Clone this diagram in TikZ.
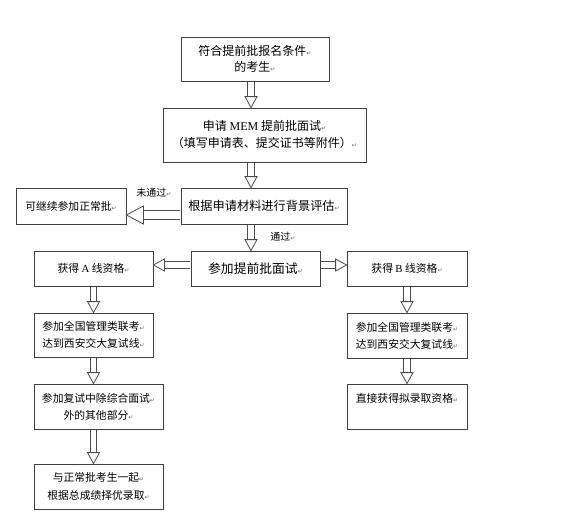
\documentclass[tikz,border=0pt]{standalone}
\usepackage{fontspec}
\setmainfont{Liberation Serif}
\newfontfamily\cjk{Noto Sans CJK SC}
\newfontfamily\symfont{DejaVu Sans}
\usepackage{xcolor}
\usepackage{tikz}
\usetikzlibrary{calc}
\usetikzlibrary{decorations.markings}

\newcommand{\rt}{{\symfont\fontsize{6}{6}\selectfont\color{black!60}↵}}
\newcommand{\lat}[1]{{\rmfamily #1}}

\begin{document}
\begin{tikzpicture}[x=1pt,y=-1pt,
  box/.style={draw=black!75, line width=0.8pt, inner sep=0pt, align=center,
    font=\cjk\fontsize{10.8}{17}\selectfont},
  dbl/.style={draw=black!70, line width=0.8pt, double=white, double distance=5.5pt, shorten <=0.4pt, shorten >=8pt,
    postaction={decorate, decoration={markings, mark=at position 1 with
      {\draw[draw=black!70, fill=white, line width=0.8pt] (-11pt,-6pt) -- (0,0) -- (-11pt,6pt) -- cycle;}}}},
  bigdbl/.style={draw=black!70, line width=0.8pt, double=white, double distance=7.5pt, shorten <=0.4pt, shorten >=13pt,
    postaction={decorate, decoration={markings, mark=at position 1 with
      {\draw[draw=black!70, fill=white, line width=0.8pt] (-17pt,-9pt) -- (0,0) -- (-17pt,9pt) -- cycle;}}}},
  lbl/.style={inner sep=0pt, font=\cjk\fontsize{10}{12}\selectfont}]
\useasboundingbox (0,0) rectangle (584,530);

\coordinate (col) at (251,0);
\coordinate (fail) at (0,215);
\coordinate (split) at (0,265);

\node[box, minimum width=148pt, minimum height=44pt, font=\cjk\fontsize{12}{16}\selectfont] (start) at (255,59) {符合提前批报名条件\rt\\的考生\rt};
\node[box, minimum width=203pt, minimum height=54pt, font=\cjk\fontsize{12}{17}\selectfont] (apply) at (264.5,135) {申请 \lat{MEM} 提前批面试\rt\\（填写申请表、提交证书等附件）\rt};
\node[box, minimum width=166pt, minimum height=36pt, font=\cjk\fontsize{12.2}{16}\selectfont] (eval) at (264,206) {根据申请材料进行背景评估\rt};
\node[box, minimum width=110pt, minimum height=36pt] (normal) at (71,206) {可继续参加正常批\rt};
\node[box, minimum width=129pt, minimum height=35pt, font=\cjk\fontsize{12.8}{16}\selectfont] (interview) at (255.5,268.5) {参加提前批面试\rt};
\node[box, minimum width=119pt, minimum height=35pt] (lineA) at (93.5,268.5) {获得 \lat{A} 线资格\rt};
\node[box, minimum width=120pt, minimum height=35pt] (lineB) at (407,268.5) {获得 \lat{B} 线资格\rt};
\node[box, minimum width=119pt, minimum height=44pt] (examA) at (93.5,335) {参加全国管理类联考\rt\\达到西安交大复试线\rt};
\node[box, minimum width=120pt, minimum height=45pt] (examB) at (407,335.5) {参加全国管理类联考\rt\\达到西安交大复试线\rt};
\node[box, minimum width=129pt, minimum height=45pt] (retestA) at (98.5,406.5) {参加复试中除综合面试\rt\\外的其他部分\rt};
\node[box, minimum width=120pt, minimum height=45pt] (admitB) at (407,406.5) {直接获得拟录取资格\rt\\\mbox{}};
\node[box, minimum width=129pt, minimum height=45pt, font=\cjk\fontsize{10.8}{18}\selectfont] (admitA) at (98.5,486.5) {与正常批考生一起\rt\\根据总成绩择优录取\rt};

\node[lbl] (nopass) at (154,193) {未通过\rt};
\node[lbl] (pass) at (283,237) {通过\rt};

\draw[dbl] (start.south -| col) -- (apply.north -| col);
\draw[dbl] (apply.south -| col) -- (eval.north -| col);
\draw[bigdbl] (eval.west |- fail) -- (normal.east |- fail);
\draw[dbl] (eval.south -| col) -- (interview.north -| col);
\draw[dbl] (interview.west |- split) -- (lineA.east |- split);
\draw[dbl] (interview.east |- split) -- (lineB.west |- split);
\draw[dbl] (lineA.south) -- (examA.north);
\draw[dbl] (examA.south) -- (retestA.north -| examA.south);
\draw[dbl] (retestA.south -| examA.south) -- (admitA.north -| examA.south);
\draw[dbl] (lineB.south) -- (examB.north);
\draw[dbl] (examB.south) -- (admitB.north);
\end{tikzpicture}
\end{document}
